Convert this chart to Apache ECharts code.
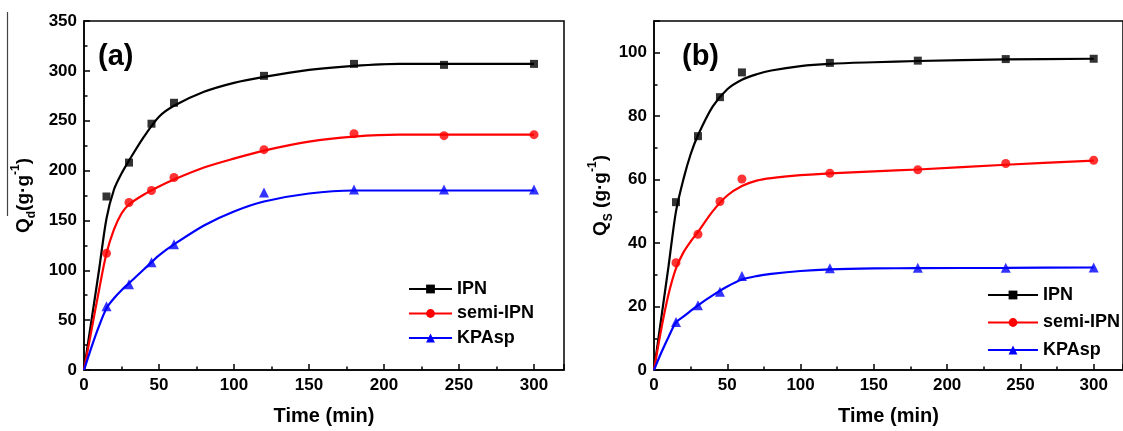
<!DOCTYPE html>
<html>
<head>
<meta charset="utf-8">
<script src="https://cdn.jsdelivr.net/npm/echarts@6/dist/echarts.min.js"></script>
<style>html,body{margin:0;padding:0;background:#fff}#c{width:1123px;height:431px}</style>
</head>
<body>
<div id="c"></div>
<script>
// ---- Data ----
const seriesNames = ['IPN', 'semi-IPN', 'KPAsp'];
const expTime = [15, 30, 45, 60, 120, 180, 240, 300];

// Panel (a): Qd
const ipnA = [174, 208, 247, 268, 295, 307, 306, 307];
const semiA = [117, 168, 180, 193, 221, 237, 235, 236];
const kpaspA = [64, 86, 108, 126, 178, 181, 181, 181];
const fitTimeA = [0, 5, 10, 15, 20, 25, 30, 40, 50, 60, 80, 100, 120, 150, 180, 210, 240, 300];
const ipnFitA = [0, 50, 100, 152, 181, 197, 210, 234, 254, 265, 279, 288, 294, 301, 305, 307, 307, 307];
const semiFitA = [0, 40, 80, 117, 141, 157, 166, 176, 184, 191, 203, 212, 220, 229, 234, 236, 236, 236];
const kpaspFitA = [0, 23, 44, 62, 72, 80, 87, 101, 115, 126, 145, 159, 169, 177, 180, 180, 180, 180];

// Panel (b): Qs
const ipnB = [52.9, 73.7, 86, 93.8, 96.8, 97.5, 98, 98.1];
const semiB = [33.8, 42.8, 53.1, 60.2, 62, 63.1, 65.1, 66.1];
const kpaspB = [15.1, 20.4, 24.7, 29.6, 32.1, 32.2, 32.2, 32.3];
const fitTimeB = [0, 5, 10, 15, 20, 25, 30, 40, 50, 60, 70, 80, 100, 120, 150, 180, 240, 300];
const ipnFitB = [0, 16.5, 33, 50, 60, 68, 74, 83, 88.5, 91.5, 93.2, 94.4, 95.8, 96.5, 97, 97.4, 97.9, 98.1];
const semiFitB = [0, 13, 24, 32, 37, 40.5, 43.5, 50, 55, 58, 59.7, 60.5, 61.4, 62, 62.6, 63.2, 64.7, 66];
const kpaspFitB = [0, 5.5, 10.5, 15, 16.8, 18.6, 20.4, 23.5, 26.3, 28.5, 29.6, 30.3, 31.2, 31.7, 32, 32.1, 32.2, 32.3];

// ---- Styles ----
const FONT = "'Liberation Sans', Arial, sans-serif";
const colors = ['#000000', '#ff0000', '#0000ff'];
const symbols = ['rect', 'circle', 'triangle'];
const symSizes = [8, 9, 10];

function zip(xs, ys) { return xs.map((x, i) => [x, ys[i]]); }

function xAxisFor(gi) {
  return {
    type: 'value', gridIndex: gi, min: 0, max: 320, interval: 50,
    name: 'Time (min)', nameLocation: 'middle', nameGap: 36,
    nameTextStyle: { fontFamily: FONT, fontWeight: 'bold', fontSize: 20, color: '#000' },
    axisLine: { show: true, lineStyle: { color: '#000', width: 1.5 } },
    axisTick: { show: true, inside: true, length: 6, lineStyle: { color: '#000', width: 1.5 } },
    minorTick: { show: true, splitNumber: 2, length: 3.5, lineStyle: { color: '#000', width: 1.5 } },
    axisLabel: { fontFamily: FONT, fontWeight: 'bold', fontSize: 17, color: '#000', margin: 7, showMaxLabel: false },
    splitLine: { show: false }
  };
}

function yAxisFor(gi, max, interval, name, nameGap, rich) {
  return {
    type: 'value', gridIndex: gi, min: 0, max: max, interval: interval,
    name: name, nameLocation: 'middle', nameGap: nameGap,
    nameTextStyle: { rich: rich },
    axisLine: { show: true, lineStyle: { color: '#000', width: 1.5 } },
    axisTick: { show: true, inside: true, length: 6, lineStyle: { color: '#000', width: 1.5 } },
    minorTick: { show: true, splitNumber: 2, length: 3.5, lineStyle: { color: '#000', width: 1.5 } },
    axisLabel: { fontFamily: FONT, fontWeight: 'bold', fontSize: 17, color: '#000', margin: 7, showMaxLabel: max % interval === 0 },
    splitLine: { show: false }
  };
}

const richName = {
  q: { fontFamily: FONT, fontWeight: 'bold', fontSize: 19, color: '#000', lineHeight: 28 },
  sub: { fontFamily: FONT, fontWeight: 'bold', fontSize: 12, color: '#000', verticalAlign: 'bottom', lineHeight: 28 },
  sup: { fontFamily: FONT, fontWeight: 'bold', fontSize: 12, color: '#000', verticalAlign: 'top', lineHeight: 28 }
};

const fitsA = [ipnFitA, semiFitA, kpaspFitA];
const expA = [ipnA, semiA, kpaspA];
const fitsB = [ipnFitB, semiFitB, kpaspFitB];
const expB = [ipnB, semiB, kpaspB];

const series = [];
[[0, fitTimeA, fitsA, expA], [1, fitTimeB, fitsB, expB]].forEach(([gi, ft, fits, exps]) => {
  seriesNames.forEach((nm, k) => {
    series.push({
      type: 'line', name: nm, xAxisIndex: gi, yAxisIndex: gi,
      data: zip(ft, fits[k]), smooth: 0.3,
      showSymbol: false, symbol: symbols[k], symbolSize: symSizes[k],
      lineStyle: { color: colors[k], width: 2.2 }, itemStyle: { color: colors[k] },
      silent: true, z: 2
    });
    series.push({
      type: 'scatter', name: nm, xAxisIndex: gi, yAxisIndex: gi,
      data: zip(expTime, exps[k]), symbol: symbols[k], symbolSize: symSizes[k],
      itemStyle: { color: colors[k] }, z: 3
    });
  });
});

function legendFor(left, top, itemWidth, gap) {
  return {
    orient: 'vertical', left: left, top: top, data: seriesNames,
    itemWidth: itemWidth, itemHeight: 11, itemGap: gap,
    textStyle: { fontFamily: FONT, fontWeight: 'bold', fontSize: 18, color: '#000', lineHeight: 18 },
    selectedMode: false
  };
}

const chart = echarts.init(document.getElementById('c'), null, { renderer: 'canvas' });
chart.setOption({
  animation: false,
  backgroundColor: '#fff',
  grid: [
    { left: 84, top: 21, width: 480, height: 350, show: true, borderColor: '#000', borderWidth: 1.5, containLabel: false },
    { left: 654, top: 21, width: 479, height: 350, show: true, borderColor: '#000', borderWidth: 1.5, containLabel: false }
  ],
  xAxis: [xAxisFor(0), xAxisFor(1)],
  yAxis: [
    yAxisFor(0, 350, 50, '{q|Q}{sub|d}{q|(g·g}{sup|-1}{q|)}', 46, richName),
    yAxisFor(1, 110, 20, '{q|Q}{sub|S}{q| (g·g}{sup|-1}{q|)}', 37, richName)
  ],
  legend: [legendFor(403, 275, 43, 6.5), legendFor(982, 281, 50, 9.5)],
  series: series,
  graphic: [
    { type: 'text', left: 98, top: 42, style: { text: '(a)', font: "bold 29px 'Liberation Sans', Arial, sans-serif", fill: '#000' } },
    { type: 'text', left: 682, top: 42, style: { text: '(b)', font: "bold 29px 'Liberation Sans', Arial, sans-serif", fill: '#000' } },
    { type: 'line', shape: { x1: 7.5, y1: 12, x2: 7.5, y2: 216 }, style: { stroke: '#444', lineWidth: 1.2 } }
  ]
});
</script>
</body>
</html>
